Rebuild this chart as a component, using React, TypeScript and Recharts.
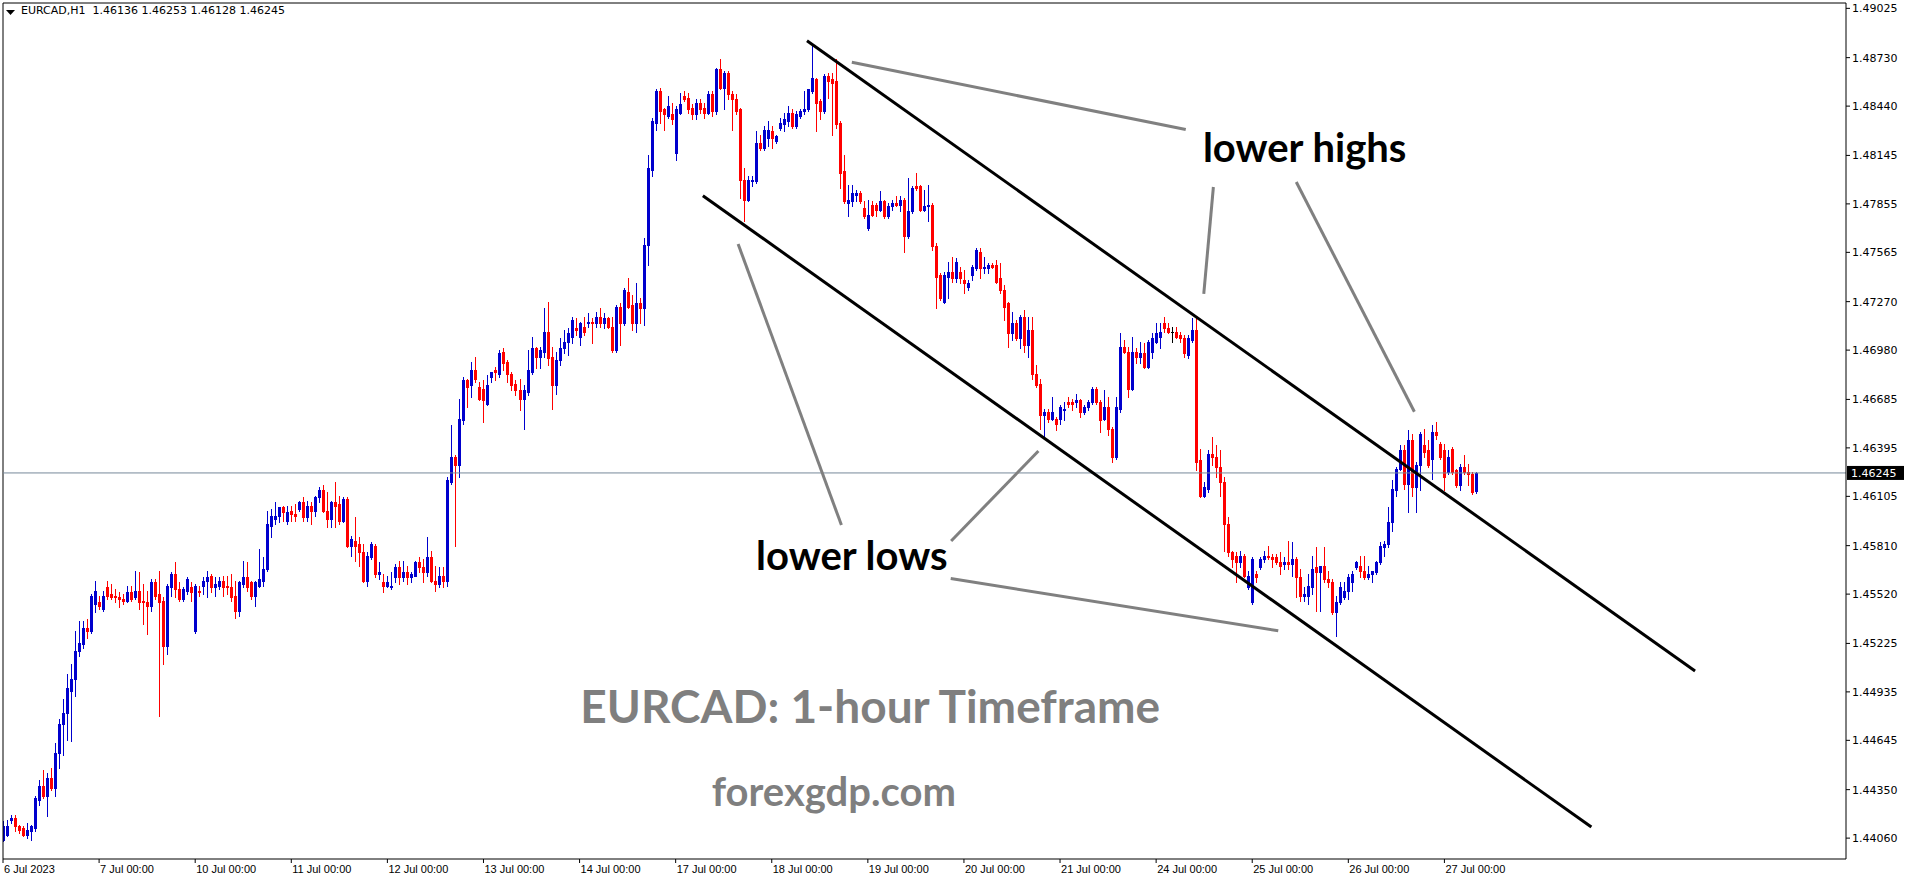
import React from 'react'
import { ComposedChart, Bar, XAxis, YAxis, ReferenceLine, ReferenceDot } from 'recharts'

type Ohlc = [number, number, number, number]

// hourly candles, open / high / low / close, one array per trading day
const jul06: Ohlc[] = [
  [1.4405, 1.4416, 1.4404, 1.4413], [1.4408, 1.4417, 1.4407, 1.4413], [1.4417, 1.442, 1.4415, 1.4418], [1.4418, 1.442, 1.441, 1.4413],
  [1.4413, 1.4414, 1.4409, 1.4411], [1.4412, 1.4413, 1.4407, 1.4408], [1.4408, 1.4415, 1.4406, 1.4411], [1.441, 1.4414, 1.4405, 1.4413],
  [1.4412, 1.4431, 1.441, 1.443], [1.4429, 1.4441, 1.4426, 1.4437], [1.4437, 1.4447, 1.443, 1.4431], [1.4431, 1.4445, 1.4419, 1.4442],
  [1.4442, 1.4448, 1.4435, 1.4436], [1.4436, 1.4463, 1.4431, 1.4457], [1.4457, 1.4477, 1.4448, 1.4474], [1.4474, 1.4489, 1.4456, 1.4481],
  [1.4481, 1.4504, 1.4465, 1.4496], [1.4494, 1.451, 1.4464, 1.4501], [1.4501, 1.453, 1.4491, 1.4518], [1.4518, 1.4536, 1.4515, 1.4523],
  [1.4522, 1.4536, 1.452, 1.4532], [1.4532, 1.4537, 1.4526, 1.453], [1.453, 1.4552, 1.4529, 1.4551], [1.4546, 1.456, 1.4541, 1.4554],
]
const jul07: Ohlc[] = [
  [1.4547, 1.4551, 1.4543, 1.4545], [1.4543, 1.4554, 1.4542, 1.4551], [1.4556, 1.456, 1.4549, 1.4551], [1.4552, 1.4558, 1.4549, 1.455],
  [1.4551, 1.4555, 1.4547, 1.455], [1.455, 1.4553, 1.4544, 1.4549], [1.4549, 1.4552, 1.4546, 1.4548], [1.4548, 1.4557, 1.4547, 1.4553],
  [1.4553, 1.4557, 1.4548, 1.4549], [1.455, 1.4566, 1.4549, 1.4554], [1.4554, 1.4565, 1.4543, 1.4547], [1.4548, 1.4558, 1.4534, 1.4547],
  [1.4547, 1.4554, 1.4528, 1.4545], [1.4545, 1.4561, 1.4542, 1.4559], [1.4559, 1.4561, 1.4549, 1.4551], [1.4552, 1.4566, 1.4479, 1.4547],
  [1.4548, 1.455, 1.451, 1.4521], [1.4521, 1.4558, 1.4516, 1.4557], [1.4556, 1.4565, 1.4551, 1.4564], [1.4564, 1.4571, 1.455, 1.4555],
  [1.4555, 1.4559, 1.4548, 1.4549], [1.4549, 1.4556, 1.4548, 1.4555], [1.4554, 1.4562, 1.4552, 1.4561], [1.4556, 1.4559, 1.4548, 1.4553],
]
const jul10: Ohlc[] = [
  [1.453, 1.4558, 1.4529, 1.4557], [1.4554, 1.4557, 1.4551, 1.4553], [1.4557, 1.4562, 1.4552, 1.456], [1.456, 1.4566, 1.455, 1.4562],
  [1.4563, 1.4564, 1.4553, 1.4556], [1.4556, 1.4562, 1.4551, 1.4558], [1.4557, 1.4562, 1.4555, 1.456], [1.456, 1.4563, 1.4551, 1.4556],
  [1.4557, 1.4563, 1.4552, 1.4556], [1.4556, 1.4564, 1.4548, 1.455], [1.4551, 1.456, 1.4538, 1.4542], [1.4542, 1.456, 1.4539, 1.4559],
  [1.4558, 1.4572, 1.4556, 1.4562], [1.4562, 1.4571, 1.4554, 1.4556], [1.4559, 1.456, 1.4549, 1.4551], [1.4551, 1.456, 1.4545, 1.4559],
  [1.4557, 1.4579, 1.4556, 1.4561], [1.456, 1.4574, 1.4557, 1.4567], [1.4567, 1.4602, 1.4566, 1.4594], [1.4593, 1.4603, 1.4586, 1.4599],
  [1.4597, 1.4607, 1.4594, 1.4599], [1.4599, 1.4604, 1.4595, 1.4604], [1.4604, 1.4605, 1.4596, 1.4601], [1.4596, 1.4605, 1.4594, 1.4601],
]
const jul11: Ohlc[] = [
  [1.4602, 1.4605, 1.4596, 1.46], [1.46, 1.4606, 1.4596, 1.4599], [1.4603, 1.4608, 1.4602, 1.4607], [1.4607, 1.461, 1.4596, 1.4598],
  [1.4598, 1.4608, 1.4596, 1.4605], [1.4605, 1.4607, 1.4594, 1.4602], [1.4602, 1.4611, 1.4599, 1.461], [1.461, 1.4616, 1.4607, 1.4614],
  [1.4614, 1.4617, 1.4601, 1.4602], [1.4602, 1.4613, 1.4592, 1.4597], [1.4597, 1.4608, 1.4592, 1.4607], [1.4607, 1.4619, 1.4592, 1.4605],
  [1.4606, 1.4611, 1.4594, 1.4596], [1.4596, 1.461, 1.4595, 1.4609], [1.4609, 1.461, 1.458, 1.4581], [1.4581, 1.4587, 1.4575, 1.4585],
  [1.4584, 1.4598, 1.4572, 1.4581], [1.4582, 1.4586, 1.4569, 1.4577], [1.4577, 1.4582, 1.4559, 1.456], [1.456, 1.4577, 1.4557, 1.4575],
  [1.4574, 1.4583, 1.4573, 1.4582], [1.4581, 1.4582, 1.4562, 1.4564], [1.4564, 1.4571, 1.4561, 1.4565], [1.4559, 1.4564, 1.4553, 1.4557],
]
const jul12: Ohlc[] = [
  [1.4557, 1.4563, 1.4556, 1.4559], [1.4556, 1.4565, 1.4555, 1.4557], [1.4562, 1.457, 1.4559, 1.4568], [1.4568, 1.4572, 1.4558, 1.4562],
  [1.4562, 1.4572, 1.456, 1.4565], [1.4565, 1.4569, 1.4558, 1.4562], [1.4562, 1.4565, 1.4559, 1.4564], [1.4563, 1.4572, 1.4563, 1.4571],
  [1.4571, 1.4574, 1.4565, 1.4568], [1.4568, 1.4573, 1.4559, 1.4565], [1.4565, 1.4586, 1.4563, 1.4574], [1.4574, 1.4578, 1.4559, 1.456],
  [1.456, 1.4569, 1.4554, 1.4558], [1.4558, 1.4568, 1.4556, 1.4563], [1.4563, 1.4568, 1.4556, 1.456], [1.456, 1.4622, 1.4557, 1.462],
  [1.4619, 1.4653, 1.4618, 1.4634], [1.4634, 1.4635, 1.4581, 1.4629], [1.4629, 1.4669, 1.4622, 1.4657], [1.4656, 1.4682, 1.4654, 1.468],
  [1.468, 1.4681, 1.4664, 1.4676], [1.4677, 1.4691, 1.467, 1.4686], [1.4686, 1.4694, 1.4679, 1.4681], [1.4676, 1.4679, 1.4668, 1.4669],
]
const jul13: Ohlc[] = [
  [1.4675, 1.468, 1.4655, 1.4668], [1.4666, 1.4683, 1.4665, 1.4677], [1.4682, 1.4685, 1.4679, 1.4685], [1.4686, 1.4688, 1.468, 1.4685],
  [1.4684, 1.4698, 1.4682, 1.4696], [1.4697, 1.4699, 1.4686, 1.469], [1.4691, 1.4692, 1.4679, 1.4684], [1.4684, 1.4685, 1.4674, 1.4677],
  [1.4678, 1.468, 1.4671, 1.4674], [1.4674, 1.4681, 1.4662, 1.4669], [1.4669, 1.4677, 1.4651, 1.4674], [1.4673, 1.4698, 1.4671, 1.4686],
  [1.4685, 1.4706, 1.4684, 1.4699], [1.4699, 1.47, 1.4687, 1.4694], [1.4694, 1.47, 1.4687, 1.4698], [1.4697, 1.4723, 1.4694, 1.4709],
  [1.4709, 1.4727, 1.4689, 1.4693], [1.4694, 1.47, 1.4663, 1.4677], [1.4677, 1.4697, 1.4672, 1.4692], [1.4692, 1.4705, 1.4689, 1.4699],
  [1.4699, 1.471, 1.4696, 1.4703], [1.4703, 1.4711, 1.4695, 1.4708], [1.4706, 1.4718, 1.4702, 1.4716], [1.4711, 1.4717, 1.4707, 1.471],
]
const jul14: Ohlc[] = [
  [1.4706, 1.4715, 1.4701, 1.4714], [1.4712, 1.4718, 1.4707, 1.4709], [1.4714, 1.472, 1.4712, 1.4715], [1.4715, 1.4717, 1.4702, 1.4714],
  [1.4714, 1.4721, 1.4712, 1.4718], [1.4718, 1.4723, 1.4712, 1.4714], [1.4714, 1.472, 1.4711, 1.4717], [1.4717, 1.4718, 1.4711, 1.4712],
  [1.4712, 1.4718, 1.4697, 1.4698], [1.4698, 1.4725, 1.4697, 1.4724], [1.4724, 1.4726, 1.4701, 1.4714], [1.4714, 1.4735, 1.4713, 1.4734],
  [1.4733, 1.4741, 1.4723, 1.4724], [1.4725, 1.4731, 1.471, 1.4714], [1.4714, 1.4738, 1.4709, 1.4726], [1.4726, 1.4729, 1.4714, 1.4723],
  [1.4723, 1.4765, 1.4713, 1.4761], [1.4761, 1.4815, 1.4749, 1.4807], [1.4806, 1.4837, 1.4802, 1.4835], [1.4834, 1.4854, 1.483, 1.4853],
  [1.4853, 1.4855, 1.4834, 1.4841], [1.4842, 1.4843, 1.483, 1.4839], [1.4838, 1.485, 1.4837, 1.4844], [1.4839, 1.4846, 1.4833, 1.4836],
]
const jul17: Ohlc[] = [
  [1.4816, 1.4844, 1.4812, 1.4842], [1.484, 1.4852, 1.4839, 1.4845], [1.485, 1.4853, 1.4847, 1.4848], [1.4849, 1.4852, 1.484, 1.4842],
  [1.4843, 1.4845, 1.4836, 1.4839], [1.4839, 1.4848, 1.4836, 1.4846], [1.4846, 1.4848, 1.484, 1.4842], [1.4843, 1.4846, 1.4837, 1.484],
  [1.484, 1.4853, 1.4839, 1.4851], [1.4851, 1.4853, 1.4838, 1.4841], [1.4841, 1.4867, 1.4839, 1.4866], [1.4866, 1.4872, 1.4854, 1.4855],
  [1.4855, 1.4865, 1.4842, 1.4864], [1.4864, 1.4865, 1.4848, 1.4851], [1.4851, 1.4853, 1.483, 1.4848], [1.4848, 1.4851, 1.4839, 1.4841],
  [1.4842, 1.4843, 1.4789, 1.48], [1.48, 1.4807, 1.4775, 1.4788], [1.4788, 1.4802, 1.4787, 1.48], [1.4799, 1.4802, 1.4796, 1.48],
  [1.4799, 1.4829, 1.4798, 1.4822], [1.4822, 1.4827, 1.4818, 1.4819], [1.4819, 1.4832, 1.4818, 1.483], [1.4825, 1.4835, 1.482, 1.483],
]
const jul18: Ohlc[] = [
  [1.4829, 1.4832, 1.4819, 1.4825], [1.4823, 1.4827, 1.4822, 1.4826], [1.4831, 1.4837, 1.483, 1.4834], [1.4833, 1.484, 1.4829, 1.4836],
  [1.4835, 1.4844, 1.4832, 1.484], [1.484, 1.4842, 1.4831, 1.4832], [1.4832, 1.4841, 1.4831, 1.4839], [1.4838, 1.4842, 1.4837, 1.4841],
  [1.4841, 1.4853, 1.4839, 1.4842], [1.4842, 1.4854, 1.4841, 1.4854], [1.4853, 1.4881, 1.4852, 1.4861], [1.486, 1.4861, 1.4829, 1.4846],
  [1.4847, 1.4848, 1.4836, 1.4841], [1.4841, 1.4863, 1.484, 1.4862], [1.4862, 1.4864, 1.4849, 1.4859], [1.486, 1.4864, 1.4827, 1.4858],
  [1.4859, 1.4872, 1.4831, 1.4833], [1.4834, 1.4835, 1.4795, 1.4804], [1.4805, 1.4815, 1.4786, 1.4787], [1.4786, 1.4797, 1.4778, 1.4788],
  [1.4787, 1.4797, 1.4784, 1.4792], [1.4791, 1.4794, 1.4787, 1.4792], [1.4792, 1.4793, 1.4786, 1.4787], [1.4783, 1.4787, 1.4777, 1.4778],
]
const jul19: Ohlc[] = [
  [1.4771, 1.4788, 1.477, 1.4779], [1.4785, 1.4787, 1.4778, 1.4779], [1.4785, 1.4786, 1.4778, 1.4782], [1.4782, 1.4793, 1.4781, 1.4787],
  [1.4787, 1.4788, 1.4777, 1.4778], [1.4778, 1.4786, 1.4777, 1.4784], [1.4784, 1.4788, 1.4782, 1.4786], [1.4786, 1.479, 1.4784, 1.4785],
  [1.4785, 1.479, 1.4781, 1.4788], [1.4788, 1.4789, 1.4757, 1.4766], [1.4766, 1.4801, 1.4765, 1.4781], [1.4781, 1.4796, 1.478, 1.4795],
  [1.4796, 1.4804, 1.4794, 1.4795], [1.4796, 1.4797, 1.4781, 1.4782], [1.4782, 1.4794, 1.4781, 1.4784], [1.4784, 1.4797, 1.4775, 1.4785],
  [1.4785, 1.4786, 1.4758, 1.476], [1.476, 1.4762, 1.4723, 1.4742], [1.4743, 1.4744, 1.4728, 1.4729], [1.4727, 1.4745, 1.4726, 1.4743],
  [1.4742, 1.4751, 1.4729, 1.4745], [1.4745, 1.4754, 1.4739, 1.4741], [1.4741, 1.4753, 1.4739, 1.4751], [1.4745, 1.4748, 1.4738, 1.4741],
]
const jul20: Ohlc[] = [
  [1.474, 1.4746, 1.4732, 1.4738], [1.4736, 1.474, 1.4734, 1.4738], [1.4743, 1.4749, 1.474, 1.4748], [1.4747, 1.4759, 1.4746, 1.4758],
  [1.4757, 1.4759, 1.4741, 1.4747], [1.4747, 1.4754, 1.4744, 1.4748], [1.4747, 1.475, 1.4744, 1.4749], [1.4749, 1.475, 1.4747, 1.4748],
  [1.4749, 1.4752, 1.4738, 1.4739], [1.4741, 1.475, 1.4732, 1.4734], [1.4734, 1.4737, 1.4716, 1.4724], [1.4726, 1.4727, 1.47, 1.4708],
  [1.4708, 1.4721, 1.4704, 1.4714], [1.4714, 1.4716, 1.4704, 1.4705], [1.4705, 1.4719, 1.4699, 1.4718], [1.4718, 1.4722, 1.4697, 1.4701],
  [1.4701, 1.4718, 1.4694, 1.471], [1.471, 1.4718, 1.4681, 1.4684], [1.4684, 1.4689, 1.4676, 1.4677], [1.4678, 1.4681, 1.4651, 1.4659],
  [1.4659, 1.4663, 1.4646, 1.4661], [1.4661, 1.4663, 1.4655, 1.4657], [1.4657, 1.467, 1.4656, 1.4661], [1.4657, 1.4658, 1.465, 1.4654],
]
const jul21: Ohlc[] = [
  [1.4657, 1.4665, 1.4654, 1.4664], [1.4662, 1.4667, 1.4656, 1.4663], [1.4667, 1.467, 1.4664, 1.4666], [1.4667, 1.4669, 1.4662, 1.4666],
  [1.4667, 1.4672, 1.4664, 1.4668], [1.4668, 1.4669, 1.4658, 1.4661], [1.4661, 1.4665, 1.466, 1.4664], [1.4664, 1.4668, 1.4662, 1.4667],
  [1.4667, 1.4676, 1.4666, 1.4675], [1.4675, 1.4676, 1.4666, 1.4667], [1.4667, 1.4668, 1.4649, 1.4656], [1.4657, 1.4674, 1.4656, 1.4664],
  [1.4664, 1.467, 1.4647, 1.4651], [1.4651, 1.4652, 1.4631, 1.4634], [1.4634, 1.467, 1.4633, 1.4664], [1.4663, 1.4708, 1.4661, 1.47],
  [1.47, 1.4704, 1.4696, 1.4697], [1.4697, 1.47, 1.467, 1.4675], [1.4675, 1.4706, 1.4674, 1.4697], [1.4697, 1.4699, 1.469, 1.4694],
  [1.4694, 1.4703, 1.469, 1.4696], [1.4696, 1.4702, 1.4687, 1.4688], [1.4688, 1.4704, 1.4687, 1.4703], [1.4697, 1.4708, 1.4693, 1.4705],
]
const jul24: Ohlc[] = [
  [1.4703, 1.4714, 1.4702, 1.4708], [1.4706, 1.4714, 1.4699, 1.4709], [1.4714, 1.4718, 1.4709, 1.4711], [1.4711, 1.4714, 1.4708, 1.4709],
  [1.4709, 1.4712, 1.4703, 1.4709], [1.4709, 1.4712, 1.4705, 1.4706], [1.4707, 1.4709, 1.4703, 1.4705], [1.4705, 1.4707, 1.4694, 1.4696],
  [1.4695, 1.4707, 1.4693, 1.4705], [1.4704, 1.4717, 1.4703, 1.471], [1.471, 1.4718, 1.4626, 1.4631], [1.4632, 1.4639, 1.461, 1.4611],
  [1.4611, 1.4619, 1.461, 1.4616], [1.4615, 1.4638, 1.4613, 1.4636], [1.4636, 1.4646, 1.4629, 1.4634], [1.4634, 1.4641, 1.4622, 1.4628],
  [1.4628, 1.4638, 1.4611, 1.4619], [1.4619, 1.4622, 1.4578, 1.4594], [1.4594, 1.4598, 1.4575, 1.4577], [1.4577, 1.4578, 1.4568, 1.4573],
  [1.4575, 1.4577, 1.4559, 1.4571], [1.4571, 1.4578, 1.4568, 1.4575], [1.4575, 1.4576, 1.4562, 1.4563], [1.4556, 1.4566, 1.4555, 1.4563],
]
const jul25: Ohlc[] = [
  [1.4547, 1.4574, 1.4546, 1.4573], [1.4564, 1.4566, 1.4559, 1.4562], [1.4568, 1.4574, 1.4567, 1.4573], [1.4573, 1.4578, 1.4571, 1.4575],
  [1.4575, 1.4581, 1.4573, 1.4574], [1.4574, 1.4576, 1.4568, 1.4573], [1.4574, 1.4576, 1.457, 1.4571], [1.4571, 1.4577, 1.4564, 1.4569],
  [1.457, 1.4574, 1.4567, 1.4571], [1.4571, 1.4584, 1.4567, 1.457], [1.457, 1.4583, 1.4563, 1.4573], [1.4573, 1.4574, 1.455, 1.4562],
  [1.4562, 1.4567, 1.4548, 1.4551], [1.4551, 1.4556, 1.4548, 1.4552], [1.4551, 1.4564, 1.4546, 1.4557], [1.4556, 1.4575, 1.4552, 1.4567],
  [1.4568, 1.458, 1.4542, 1.4565], [1.4565, 1.4569, 1.4542, 1.4569], [1.4569, 1.458, 1.4559, 1.4561], [1.4561, 1.4566, 1.4556, 1.4559],
  [1.4559, 1.4561, 1.454, 1.4541], [1.4541, 1.4551, 1.4527, 1.4547], [1.4547, 1.4559, 1.4546, 1.4556], [1.455, 1.4559, 1.4549, 1.4554],
]
const jul26: Ohlc[] = [
  [1.4554, 1.4564, 1.4549, 1.4562], [1.4559, 1.4566, 1.4554, 1.4564], [1.4568, 1.4572, 1.4567, 1.4571], [1.4569, 1.4575, 1.4562, 1.4566],
  [1.4566, 1.4575, 1.4561, 1.4562], [1.4562, 1.4569, 1.4561, 1.4564], [1.4564, 1.4566, 1.4559, 1.4566], [1.4565, 1.4572, 1.4564, 1.4571],
  [1.4571, 1.4583, 1.457, 1.4581], [1.458, 1.4584, 1.4575, 1.4582], [1.4582, 1.4604, 1.458, 1.4595], [1.4595, 1.462, 1.459, 1.4615],
  [1.4614, 1.4628, 1.4611, 1.4627], [1.4627, 1.4641, 1.4626, 1.4638], [1.4638, 1.4641, 1.4615, 1.4618], [1.4618, 1.465, 1.4601, 1.4644],
  [1.4644, 1.4648, 1.4611, 1.4616], [1.4616, 1.4631, 1.4601, 1.4629], [1.4629, 1.4649, 1.4614, 1.4648], [1.4641, 1.4651, 1.4634, 1.4637],
  [1.4638, 1.4644, 1.4628, 1.4629], [1.4633, 1.4653, 1.4621, 1.4649], [1.4649, 1.4655, 1.4645, 1.4647], [1.4642, 1.4643, 1.4633, 1.4634],
]
const jul27: Ohlc[] = [
  [1.4638, 1.4642, 1.4614, 1.4622], [1.4625, 1.4638, 1.4624, 1.4634], [1.4639, 1.464, 1.4624, 1.4625], [1.4626, 1.4627, 1.4616, 1.4617],
  [1.4617, 1.463, 1.4614, 1.4628], [1.4628, 1.4635, 1.4624, 1.4625], [1.4625, 1.463, 1.4617, 1.4624], [1.4624, 1.4625, 1.4612, 1.4613],
  [1.46136, 1.46253, 1.46128, 1.46245],
]

const sessions = [
  { label: '6 Jul 2023', bars: jul06 },
  { label: '7 Jul 00:00', bars: jul07 },
  { label: '10 Jul 00:00', bars: jul10 },
  { label: '11 Jul 00:00', bars: jul11 },
  { label: '12 Jul 00:00', bars: jul12 },
  { label: '13 Jul 00:00', bars: jul13 },
  { label: '14 Jul 00:00', bars: jul14 },
  { label: '17 Jul 00:00', bars: jul17 },
  { label: '18 Jul 00:00', bars: jul18 },
  { label: '19 Jul 00:00', bars: jul19 },
  { label: '20 Jul 00:00', bars: jul20 },
  { label: '21 Jul 00:00', bars: jul21 },
  { label: '24 Jul 00:00', bars: jul24 },
  { label: '25 Jul 00:00', bars: jul25 },
  { label: '26 Jul 00:00', bars: jul26 },
  { label: '27 Jul 00:00', bars: jul27 },
]

const priceTicks = [
  1.49025, 1.4873, 1.4844, 1.48145, 1.47855, 1.47565, 1.4727, 1.4698, 1.46685,
  1.46395, 1.46105, 1.4581, 1.4552, 1.45225, 1.44935, 1.44645, 1.4435, 1.4406,
]
const lastPrice = 1.46245
const header = 'EURCAD,H1  1.46136 1.46253 1.46128 1.46245'

// drawn trend lines, in bar index / price
const channel = [
  [{ x: 200.8, y: 1.48831 }, { x: 422.6, y: 1.4506 }],
  [{ x: 174.8, y: 1.47904 }, { x: 396.7, y: 1.44126 }],
]
const pointers = [
  [{ x: 212.0, y: 1.48702 }, { x: 295.4, y: 1.483 }],
  [{ x: 302.3, y: 1.47956 }, { x: 299.9, y: 1.47316 }],
  [{ x: 323.0, y: 1.47986 }, { x: 352.5, y: 1.46611 }],
  [{ x: 183.6, y: 1.47615 }, { x: 209.4, y: 1.45933 }],
  [{ x: 258.6, y: 1.46376 }, { x: 236.8, y: 1.45838 }],
  [{ x: 236.7, y: 1.45613 }, { x: 318.5, y: 1.45301 }],
]
const notes = [
  { text: 'lower highs', x: 325.1, y: 1.48106, size: 40, color: '#000' },
  { text: 'lower lows', x: 212.0, y: 1.45664, size: 40, color: '#000' },
  { text: 'EURCAD: 1-hour Timeframe', x: 216.6, y: 1.44749, size: 46, color: '#7f7f7f' },
  { text: 'forexgdp.com', x: 207.5, y: 1.44252, size: 40, color: '#7f7f7f' },
]

type Row = { i: number; o: number; h: number; l: number; c: number; range: [number, number] }

const rows: Row[] = []
const dayStarts: number[] = []
const dayLabel: Record<number, string> = {}
sessions.forEach((s) => {
  dayStarts.push(rows.length)
  dayLabel[rows.length] = s.label
  s.bars.forEach(([o, h, l, c]) => rows.push({ i: rows.length, o, h, l, c, range: [l, h] }))
})

const W = 1916
const H = 884
const X_MAX = 460.3
const Y_MIN = 1.43935
const Y_MAX = 1.49057
const UP = '#0000cd'
const DOWN = '#ff0000'

function Candle(props: any) {
  const { x, y, width, height, payload } = props
  if (!payload || x == null || y == null) return null
  const { o, h, l, c } = payload as Row
  const top = Math.min(y, y + height)
  const span = Math.abs(height)
  const py = (v: number) => (h === l ? top : top + ((h - v) / (h - l)) * span)
  const cx = Math.round(x + width / 2 - 0.5)
  const color = c > o ? UP : c < o ? DOWN : '#000'
  const wTop = Math.round(top)
  const wBot = Math.round(top + span)
  const bTop = Math.round(py(Math.max(o, c)))
  const bBot = Math.round(py(Math.min(o, c)))
  return (
    <g shapeRendering="crispEdges">
      <rect x={cx} y={wTop} width={1} height={Math.max(1, wBot - wTop + 1)} fill={color} />
      <rect x={cx - 1} y={bTop} width={3} height={Math.max(1, bBot - bTop + 1)} fill={color} />
    </g>
  )
}

function DayTick(props: any) {
  const { x, y, payload } = props
  return (
    <text x={x + 1} y={y} dy="0.71em" textAnchor="start" fontSize={11} fontFamily="Liberation Sans" fill="#000">
      {dayLabel[payload.value]}
    </text>
  )
}

function PriceTag(props: any) {
  const vb = props.viewBox
  if (!vb) return null
  const x0 = vb.x + vb.width + 1
  return (
    <g>
      <rect x={x0} y={vb.y - 7} width={57} height={14} fill="#000" />
      <text x={x0 + 4} y={vb.y + 4} fontSize={11} fontFamily="DejaVu Sans" fill="#fff">
        {lastPrice.toFixed(5)}
      </text>
    </g>
  )
}

export default function App() {
  return (
    <div style={{ position: 'absolute', left: 0, top: 0, width: W, height: H, background: '#fff' }}>
      <ComposedChart width={W} height={H} data={rows} margin={{ top: 3, right: 0, bottom: 0, left: 3 }}>
        <XAxis
          dataKey="i"
          type="number"
          domain={[0, X_MAX]}
          allowDataOverflow
          ticks={dayStarts}
          interval={0}
          height={25}
          axisLine={{ stroke: '#000' }}
          tickLine={{ stroke: '#000' }}
          tickSize={4}
          tick={<DayTick />}
        />
        <YAxis
          orientation="right"
          type="number"
          domain={[Y_MIN, Y_MAX]}
          allowDataOverflow
          ticks={priceTicks}
          interval={0}
          width={70}
          axisLine={{ stroke: '#000' }}
          tickLine={{ stroke: '#000' }}
          tickSize={4}
          tickMargin={2}
          tick={{ fill: '#000', fontSize: 11, fontFamily: 'DejaVu Sans' }}
          tickFormatter={(v: number) => v.toFixed(5)}
        />
        <ReferenceLine y={Y_MAX} stroke="#000" />
        <ReferenceLine x={0} stroke="#000" />
        <ReferenceLine y={lastPrice} stroke="#778899" label={<PriceTag />} />
        <Bar dataKey="range" barSize={3} shape={<Candle />} isAnimationActive={false} />
        {channel.map((seg, k) => (
          <ReferenceLine key={'ch' + k} segment={seg} stroke="#000" strokeWidth={3} />
        ))}
        {pointers.map((seg, k) => (
          <ReferenceLine key={'pt' + k} segment={seg} stroke="#808080" strokeWidth={3} />
        ))}
        {notes.map((n) => (
          <ReferenceDot
            key={n.text}
            x={n.x}
            y={n.y}
            r={0}
            shape={(p: any) => (
              <text x={p.cx} y={p.cy} textAnchor="middle" fontFamily="Lato" fontWeight={700} fontSize={n.size} fill={n.color}>
                {n.text}
              </text>
            )}
          />
        ))}
      </ComposedChart>
      <svg style={{ position: 'absolute', left: 0, top: 0 }} width={20} height={20}>
        <polygon points="6,10 15,10 10.5,15" fill="#000" />
      </svg>
      <div
        style={{
          position: 'absolute',
          left: 21,
          top: 4,
          fontFamily: 'DejaVu Sans',
          fontSize: 11,
          whiteSpace: 'pre',
          color: '#000',
        }}
      >
        {header}
      </div>
    </div>
  )
}
